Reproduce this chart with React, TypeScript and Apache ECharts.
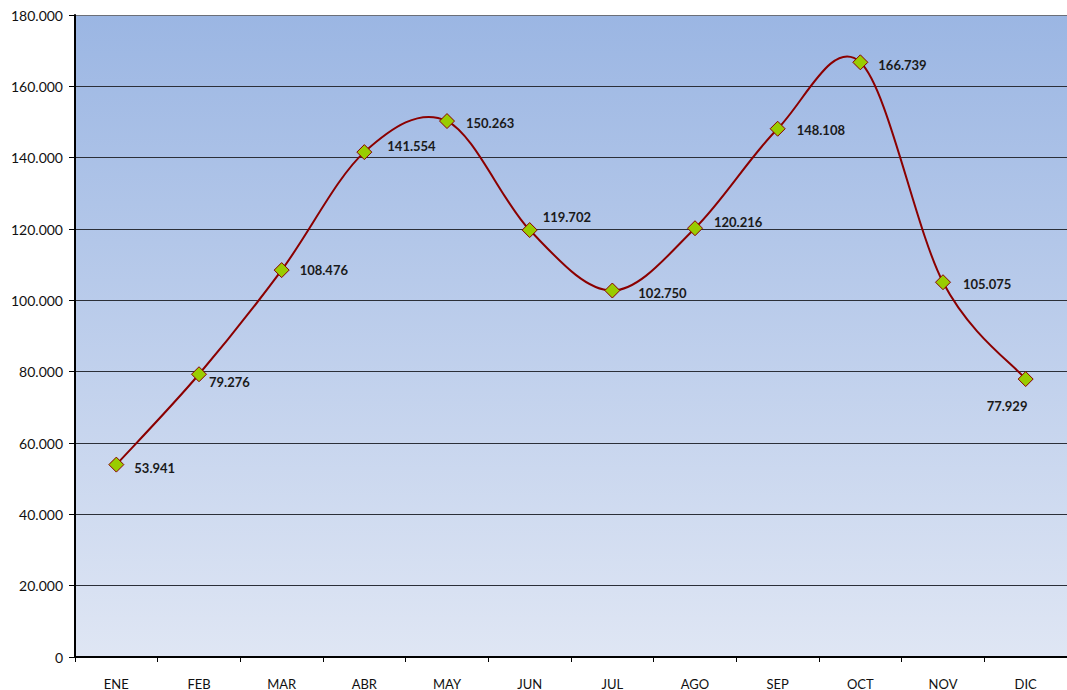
import React, { useEffect, useRef } from "react";
import * as echarts from "echarts";

const months = ["ENE", "FEB", "MAR", "ABR", "MAY", "JUN", "JUL", "AGO", "SEP", "OCT", "NOV", "DIC"];
const values = [53941, 79276, 108476, 141554, 150263, 119702, 102750, 120216, 148108, 166739, 105075, 77929];
// label nudges (dx, dy) relative to the right side of each marker
const labelNudges: [number, number][] = [
  [10, 3], [2, 8], [10, 0], [15, -6], [11, 2], [5, -13],
  [18, 2], [11, -6], [11, 1], [10, 3], [12, 2], [-47, 27],
];

const fmt = (v: number) => {
  const s = Math.round(v).toString();
  return s.replace(/\B(?=(\d{3})+(?!\d))/g, ".");
};

// Catmull-Rom style segment between point i and i+1, in pixel space
const renderSegment = (params: any, api: any) => {
  const i = params.dataIndex;
  const n = values.length;
  if (i >= n - 1) return { type: "group", children: [] };
  const pt = (j: number) => {
    const k = Math.max(0, Math.min(n - 1, j));
    return api.coord([k, values[k]]);
  };
  const p0 = pt(i - 1);
  const p1 = pt(i);
  const p2 = pt(i + 1);
  const p3 = pt(i + 2);
  const t = 1 / 6;
  return {
    type: "bezierCurve",
    shape: {
      x1: p1[0],
      y1: p1[1],
      cpx1: p1[0] + (p2[0] - p0[0]) * t,
      cpy1: p1[1] + (p2[1] - p0[1]) * t,
      cpx2: p2[0] - (p3[0] - p1[0]) * t,
      cpy2: p2[1] - (p3[1] - p1[1]) * t,
      x2: p2[0],
      y2: p2[1],
    },
    style: { stroke: "#8b0000", lineWidth: 2, fill: "none" },
  };
};

export default function App() {
  const ref = useRef<HTMLDivElement>(null);
  useEffect(() => {
    document.body.style.margin = "0";
    const chart = echarts.init(ref.current!, undefined, { renderer: "svg" });
    chart.setOption({
      animation: false,
      backgroundColor: "#ffffff",
      grid: {
        left: 75,
        right: 0,
        top: 15,
        bottom: 33,
        show: true,
        borderWidth: 0,
        backgroundColor: new echarts.graphic.LinearGradient(0, 0, 0, 1, [
          { offset: 0, color: "#9bb6e3" },
          { offset: 1, color: "#dfe6f4" },
        ]),
      },
      xAxis: {
        type: "category",
        data: months,
        boundaryGap: true,
        axisLine: { lineStyle: { color: "#000", width: 2 } },
        axisTick: { show: true, length: 5, alignWithLabel: false, lineStyle: { color: "#000" } },
        axisLabel: { color: "#111", fontSize: 13, fontFamily: "Lato, sans-serif", margin: 20 },
      },
      yAxis: {
        type: "value",
        min: 0,
        max: 180000,
        interval: 20000,
        axisLine: { show: true, lineStyle: { color: "#000", width: 2 } },
        axisTick: { show: true, length: 6, lineStyle: { color: "#000" } },
        axisLabel: {
          color: "#111",
          fontSize: 14,
          fontFamily: "Lato, sans-serif",
          margin: 12,
          formatter: (v: number) => fmt(v),
        },
        splitLine: {
          show: true,
          lineStyle: {
            color: [
              "#2b2f38", "#2b2f38", "#2b2f38", "#2b2f38", "#2b2f38",
              "#2b2f38", "#2b2f38", "#2b2f38", "#2b2f38", "#6b6f78",
            ],
            width: 1,
          },
        },
      },
      series: [
        {
          type: "custom",
          renderItem: renderSegment,
          data: values.map((v, i) => [i, v]),
          z: 2,
          silent: true,
        },
        {
          type: "line",
          data: values.map((v, i) => ({
            value: v,
            label: { offset: labelNudges[i] },
          })),
          symbol: "diamond",
          symbolSize: 15,
          z: 3,
          lineStyle: { width: 0, opacity: 0 },
          itemStyle: { color: "#99cc00", borderColor: "#8b0000", borderWidth: 1 },
          label: {
            show: true,
            position: "right",
            distance: 0,
            color: "#1a1a1a",
            fontSize: 13,
            fontWeight: "bold",
            fontFamily: "Lato, sans-serif",
            formatter: (p: any) => fmt(p.value),
          },
        },
      ],
    });
    return () => chart.dispose();
  }, []);
  return <div ref={ref} style={{ position: "fixed", left: 0, top: 0, width: 1067, height: 690 }} />;
}
